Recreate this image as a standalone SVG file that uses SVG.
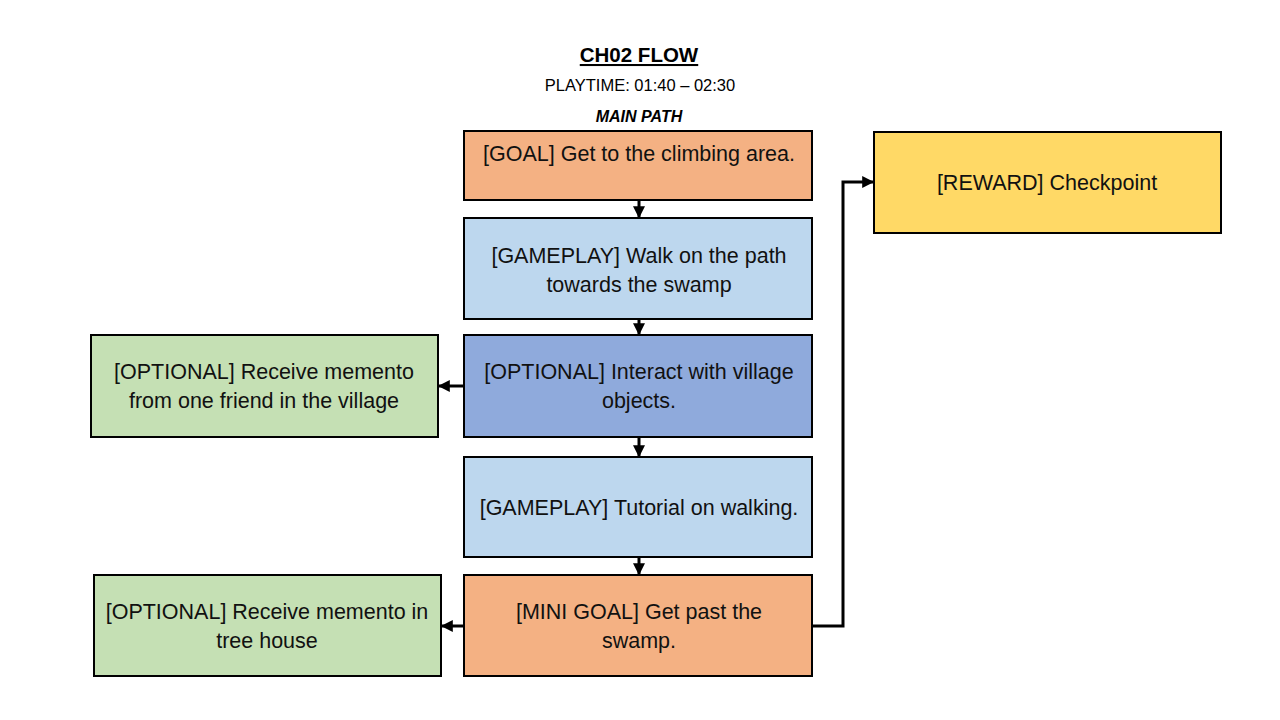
<svg xmlns="http://www.w3.org/2000/svg" width="1280" height="720" viewBox="0 0 1280 720">
<defs>
<marker id="ah" viewBox="0 0 10 10" refX="9" refY="5" markerWidth="4" markerHeight="4" orient="auto" markerUnits="strokeWidth"><path d="M0,0 L10,5 L0,10 z" fill="#000"/></marker>
<style>
.box{stroke:#000;stroke-width:2}
.t{font-family:"Liberation Sans",Arial,sans-serif;font-size:21.5px;fill:#111;text-anchor:middle}
.orange{fill:#F4B183}.lblue{fill:#BDD7EE}.mblue{fill:#8FAADC}.green{fill:#C5E0B4}.yellow{fill:#FFD966}
.c{fill:none;stroke:#000;stroke-width:3;marker-end:url(#ah)}
</style>
</defs>
<rect width="1280" height="720" fill="#fff"/>
<g id="title">
<text x="639" y="62" font-family="Liberation Sans,Arial,sans-serif" font-size="20.5" font-weight="bold" text-anchor="middle" text-decoration="underline" fill="#000">CH02 FLOW</text>
<text x="640" y="91" font-family="Liberation Sans,Arial,sans-serif" font-size="16.5" text-anchor="middle" fill="#000">PLAYTIME: 01:40 – 02:30</text>
<text x="639" y="122" font-family="Liberation Sans,Arial,sans-serif" font-size="16" font-weight="bold" font-style="italic" text-anchor="middle" fill="#000">MAIN PATH</text>
</g>
<g id="connectors">
<path class="c" d="M639,200 V217"/>
<path class="c" d="M639,319 V334"/>
<path class="c" d="M639,437 V456"/>
<path class="c" d="M639,557 V574"/>
<path class="c" d="M464,386 H439"/>
<path class="c" d="M464,626 H442"/>
<path class="c" d="M812,626 H843 V182 H873"/>
</g>
<g id="goal"><rect class="box orange" x="464" y="131" width="348" height="69"/><text class="t" x="639" y="161">[GOAL] Get to the climbing area.</text></g>
<g id="walk"><rect class="box lblue" x="464" y="218" width="348" height="101"/><text class="t" x="639" y="263">[GAMEPLAY] Walk on the path</text><text class="t" x="639" y="292">towards the swamp</text></g>
<g id="interact"><rect class="box mblue" x="464" y="335" width="348" height="102"/><text class="t" x="639" y="379">[OPTIONAL] Interact with village</text><text class="t" x="639" y="408">objects.</text></g>
<g id="friend"><rect class="box green" x="91" y="335" width="347" height="102"/><text class="t" x="264" y="379">[OPTIONAL] Receive memento</text><text class="t" x="264" y="408">from one friend in the village</text></g>
<g id="tutorial"><rect class="box lblue" x="464" y="457" width="348" height="100"/><text class="t" x="639" y="515">[GAMEPLAY] Tutorial on walking.</text></g>
<g id="minigoal"><rect class="box orange" x="464" y="575" width="348" height="101"/><text class="t" x="639" y="619">[MINI GOAL] Get past the</text><text class="t" x="639" y="648">swamp.</text></g>
<g id="treehouse"><rect class="box green" x="94" y="575" width="347" height="101"/><text class="t" x="267" y="619">[OPTIONAL] Receive memento in</text><text class="t" x="267" y="648">tree house</text></g>
<g id="reward"><rect class="box yellow" x="874" y="132" width="347" height="101"/><text class="t" x="1047" y="190">[REWARD] Checkpoint</text></g>
</svg>
